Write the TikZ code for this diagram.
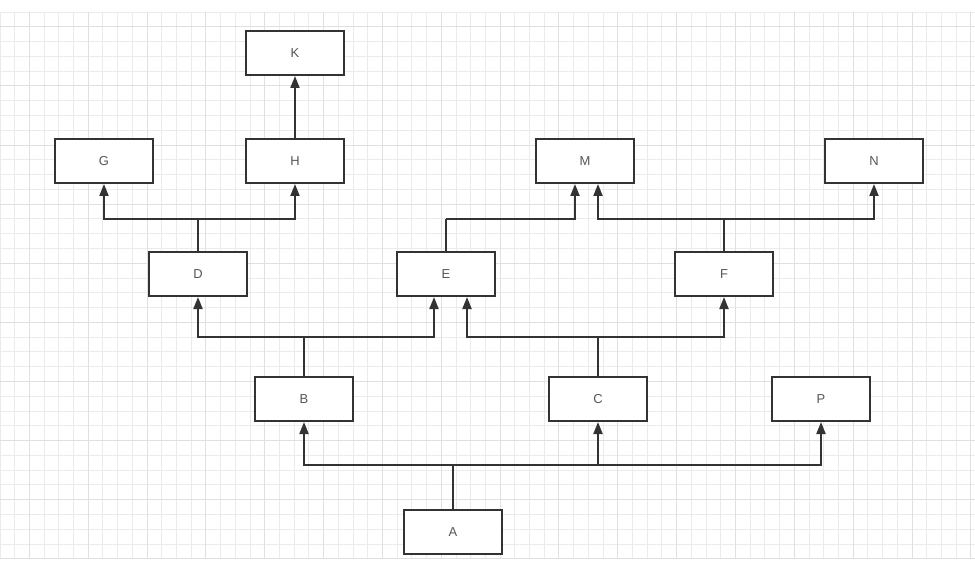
\documentclass[tikz,border=0pt]{standalone}
\usepackage{fontspec}
\setmainfont{Liberation Sans}
\usetikzlibrary{arrows.meta}
\definecolor{edgec}{HTML}{333333}
\definecolor{txtc}{HTML}{555555}
\definecolor{gridminor}{HTML}{EBEBEB}
\definecolor{gridmajor}{HTML}{E0E0E0}
\tikzset{
  box/.style={draw=edgec, line width=2bp, fill=white, minimum width=98bp, minimum height=44bp,
    inner sep=0pt, font=\fontsize{13}{15}\selectfont, text=txtc},
  ln/.style={draw=edgec, line width=2bp},
  arr/.style={ln, -{Triangle[length=12bp,width=9bp]}},
  gmin/.style={draw=gridminor, line width=1bp},
  gmaj/.style={draw=gridmajor, line width=1.5bp}
}
\begin{document}
\begin{tikzpicture}[x=1bp,y=-1bp]
\useasboundingbox (0,0) rectangle (975,577);
% grid
\foreach \i in {0,...,66} \draw[gmin] ({int(\i*14.71)+0.5},12) -- ({int(\i*14.71)+0.5},559);
\foreach \j in {0,...,37} \draw[gmin] (0,{int(12+\j*14.78)+0.5}) -- (975,{int(12+\j*14.78)+0.5});
\foreach \i in {2,6,...,66} \draw[gmaj] ({int(\i*14.71)+0.5},12) -- ({int(\i*14.71)+0.5},559);
\foreach \j in {1,5,...,37} \draw[gmaj] (0,{int(12+\j*14.78)+0.5}) -- (975,{int(12+\j*14.78)+0.5});
% nodes
\node[box] (K) at (295,53) {K};
\node[box] (G) at (104,161) {G};
\node[box] (H) at (295,161) {H};
\node[box] (M) at (585,161) {M};
\node[box] (N) at (874,161) {N};
\node[box] (D) at (198,274) {D};
\node[box] (E) at (446,274) {E};
\node[box] (F) at (724,274) {F};
\node[box] (B) at (304,399) {B};
\node[box] (C) at (598,399) {C};
\node[box] (P) at (821,399) {P};
\node[box] (A) at (453,532) {A};
% junctions
\coordinate (jA) at (A.north |- 0,465);
\coordinate (jB) at (B.north |- 0,337);
\coordinate (jC) at (C.north |- 0,337);
\coordinate (jD) at (D.north |- 0,219);
\coordinate (jE) at (E.north |- 0,219);
\coordinate (jF) at (F.north |- 0,219);
% connectors
\draw[ln] (A.north) -- (jA);
\draw[arr] (jA) -| (B.south);
\draw[arr] (jA) -| (C.south);
\draw[arr] (jA) -| (P.south);
\draw[ln] (B.north) -- (jB);
\draw[arr] (jB) -| (D.south);
\draw[arr] (jB) -| ([xshift=-12bp]E.south);
\draw[ln] (C.north) -- (jC);
\draw[arr] (jC) -| ([xshift=21bp]E.south);
\draw[arr] (jC) -| (F.south);
\draw[ln] (D.north) -- (jD);
\draw[arr] (jD) -| (G.south);
\draw[arr] (jD) -| (H.south);
\draw[ln] (E.north) -- (jE);
\draw[arr] (jE) -| ([xshift=-10bp]M.south);
\draw[ln] (F.north) -- (jF);
\draw[arr] (jF) -| ([xshift=13bp]M.south);
\draw[arr] (jF) -| (N.south);
\draw[arr] (H.north) -- (K.south);
\end{tikzpicture}
\end{document}
